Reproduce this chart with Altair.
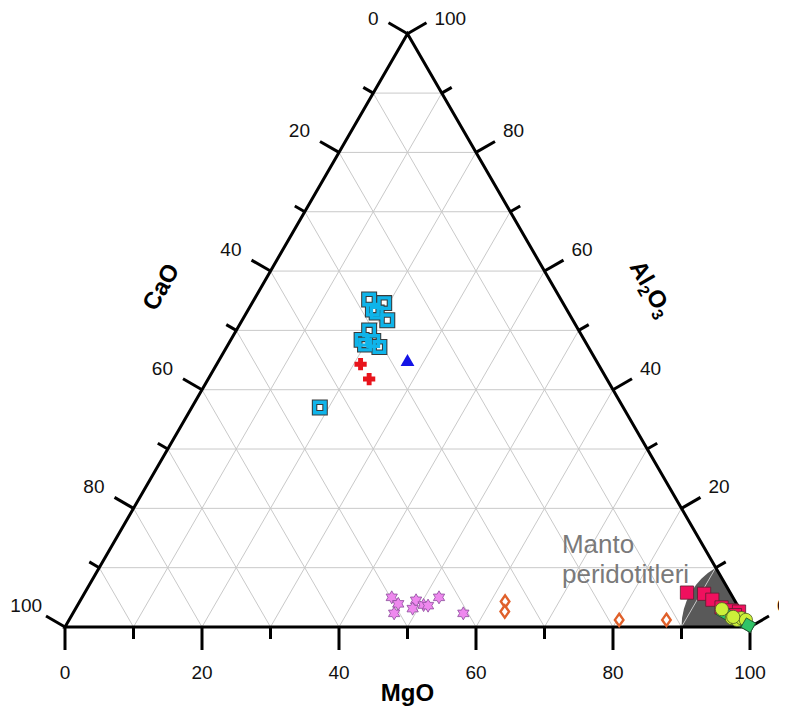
import math
import altair as alt
import pandas as pd

# ---------------- data: compositions in % (MgO, CaO, Al2O3) ----------------
cyan_mgo = [16.8, 19.3, 19.0, 21.2, 18.2, 19.4, 19.1, 20.9, 20.0, 22.3, 18.7]
cyan_cao = [28.0, 26.1, 28.0, 27.1, 28.3, 30.6, 32.5, 30.9, 32.4, 30.5, 44.3]
cyan_al = [55.2, 54.6, 53.0, 51.7, 53.5, 50.0, 48.4, 48.2, 47.6, 47.2, 37.0]

red_mgo = [21.0, 23.5]
red_cao = [34.7, 34.7]
red_al = [44.3, 41.8]

blue_mgo = [27.5]
blue_cao = [27.5]
blue_al = [45.0]

star_mgo = [45.2, 46.7, 46.9, 49.0, 49.2, 50.5, 51.2, 52.1, 57.0]
star_cao = [49.8, 49.4, 50.8, 46.5, 47.7, 45.8, 45.2, 42.9, 40.7]
star_al = [5.0, 3.9, 2.3, 4.5, 3.1, 3.7, 3.6, 5.0, 2.3]

dia_mgo = [62.1, 62.9, 80.3, 87.2]
dia_cao = [33.6, 34.5, 18.5, 11.6]
dia_al = [4.3, 2.6, 1.2, 1.2]

pink_mgo = [87.9, 90.5, 92.2, 94.2, 95.9, 97.1, 96.8]
pink_cao = [6.3, 3.9, 3.2, 2.5, 1.3, 0.3, 1.2]
pink_al = [5.8, 5.6, 4.6, 3.3, 2.8, 2.6, 2.0]

yel_mgo = [94.4, 96.6, 97.5, 98.0, 98.8, 96.7, 98.1]
yel_cao = [2.6, 1.9, 1.3, 0.5, 0.0, 1.6, 1.2]
yel_al = [3.0, 1.5, 1.2, 1.5, 1.2, 1.7, 0.7]

grn_mgo = [95.0, 97.7, 99.6]
grn_cao = [2.6, 1.1, 0.1]
grn_al = [2.4, 1.2, 0.3]

tick_values = [0, 10, 20, 30, 40, 50, 60, 70, 80, 90, 100]
grid_values = [10, 20, 30, 40, 50, 60, 70, 80, 90]
mantle_radius_pct = 10  # mantle peridotite field: 10 % around the MgO apex

FONT = "Liberation Sans"
S3 = math.sqrt(3) / 2
PX = 6.85  # pixels per percent along an edge


def tern(m, c, a):
    t = m + c + a
    m, a = m / t * 100, a / t * 100
    return m + a / 2, a * S3


def pts(mg, ca, al):
    rows = [tern(m, c, a) for m, c, a in zip(mg, ca, al)]
    return pd.DataFrame(rows, columns=["X", "Y"])


xs = alt.Scale(domain=[-8.321, 104.234], nice=False, zero=False)
ys = alt.Scale(domain=[-11.679, 90.365], nice=False, zero=False)
X = alt.X("X:Q", scale=xs, axis=None)
Y = alt.Y("Y:Q", scale=ys, axis=None)

# ---------------- mantle field (sector around MgO apex) ----------------
apex = pd.DataFrame({"X": [100.0], "Y": [0.0]})
mantle = alt.Chart(apex).mark_arc(
    radius=mantle_radius_pct * PX, theta=3 * math.pi / 2, theta2=11 * math.pi / 6,
    color="#595959"
).encode(x=X, y=Y)

# ---------------- grid ----------------
grid_rows = []
for k in grid_values:
    x1, y1 = tern(0, 100 - k, k); x2, y2 = tern(100 - k, 0, k)
    grid_rows.append((x1, y1, x2, y2))
    x1, y1 = tern(0, k, 100 - k); x2, y2 = tern(100 - k, k, 0)
    grid_rows.append((x1, y1, x2, y2))
    x1, y1 = tern(k, 0, 100 - k); x2, y2 = tern(k, 100 - k, 0)
    grid_rows.append((x1, y1, x2, y2))
grid_df = pd.DataFrame(grid_rows, columns=["X", "Y", "X2", "Y2"])
grid = alt.Chart(grid_df).mark_rule(color="#c9c9c9", strokeWidth=1).encode(
    x=X, y=Y, x2="X2:Q", y2="Y2:Q")

# ---------------- frame ----------------
verts = [tern(0, 100, 0), tern(100, 0, 0), tern(0, 0, 100), tern(0, 100, 0), tern(100, 0, 0)]
frame_df = pd.DataFrame([(i, v[0], v[1]) for i, v in enumerate(verts)], columns=["i", "X", "Y"])
frame = alt.Chart(frame_df).mark_line(color="black", strokeWidth=3, strokeJoin="miter").encode(
    x=X, y=Y, order="i:O")

# ---------------- ticks & labels ----------------
tick_rows = []
lab_rows = []
for k in tick_values:
    major = k % 20 == 0
    Lb = 3.36 if major else 1.75
    Ls = 3.2 if major else 1.68
    bx, by = tern(k, 100 - k, 0)
    tick_rows.append((bx, by, bx, by - Lb))
    lx, ly = tern(0, k, 100 - k)
    tick_rows.append((lx, ly, lx - Ls * S3, ly + Ls * 0.5))
    rx, ry = tern(100 - k, 0, k)
    tick_rows.append((rx, ry, rx + Ls * S3, ry + Ls * 0.5))
    if major:
        lside = "lt" if k == 0 else ("lb" if k == 100 else "l")
        lab_rows.append(("b", str(k), bx, by - Lb))
        lab_rows.append((lside, str(k), lx - Ls * S3, ly + Ls * 0.5))
        lab_rows.append(("rt" if k == 100 else "r", str(k), rx + Ls * S3, ry + Ls * 0.5))
tick_df = pd.DataFrame(tick_rows, columns=["X", "Y", "X2", "Y2"])
ticks = alt.Chart(tick_df).mark_rule(color="black", strokeWidth=3).encode(
    x=X, y=Y, x2="X2:Q", y2="Y2:Q")
lab_df = pd.DataFrame(lab_rows, columns=["side", "t", "X", "Y"])


def labels(side, **kw):
    return alt.Chart(lab_df[lab_df.side == side]).mark_text(
        font=FONT, fontSize=19, color="#111111", baseline="middle", **kw
    ).encode(x=X, y=Y, text="t:N")


lab_layers = [
    labels("b", align="center", dy=23),
    labels("l", align="right", dx=-10, dy=-10),
    labels("lt", align="right", dx=-10, dy=-4),
    labels("lb", align="right", dx=-4, dy=-10),
    labels("r", align="left", dx=8, dy=-10),
    labels("rt", align="left", dx=8, dy=-4),
]

# ---------------- axis titles ----------------
mx, my = tern(50, 50, 0)
cx, cy = tern(0, 50, 50)
ax_, ay_ = tern(50, 0, 50)
off_c = 86 / PX
off_a = 84 / PX
TFS = 24
title_layers = [
    alt.Chart(pd.DataFrame({"X": [mx], "Y": [my - 9.75], "t": ["MgO"]})).mark_text(
        font=FONT, fontSize=TFS, fontWeight="bold", color="black",
        align="center", baseline="middle"
    ).encode(x=X, y=Y, text="t:N"),
    alt.Chart(pd.DataFrame({"X": [cx - off_c * S3], "Y": [cy + off_c * 0.5], "t": ["CaO"]})).mark_text(
        font=FONT, fontSize=TFS, fontWeight="bold", color="black",
        align="center", baseline="middle", angle=300
    ).encode(x=X, y=Y, text="t:N"),
]

# Al2O3 with real subscripts, laid along a 60° baseline
tcx, tcy = ax_ + off_a * S3, ay_ + off_a * 0.5
dxu, dyu = 0.5 / PX, -S3 / PX        # along text direction (data units per px)
nxu, nyu = -S3 / PX, -0.5 / PX       # "down" relative to text
pieces = [("Al", TFS, 1.0 * TFS, False), ("2", 16, 0.556 * 16, True),
          ("O", TFS, 0.778 * TFS, False), ("3", 16, 0.556 * 16, True)]
total = sum(p[2] for p in pieces)
pos = -total / 2
main_rows, sub_rows = [], []
for t, fs, w, sub in pieces:
    down = 8.5 + (5 if sub else 0)
    px_ = tcx + pos * dxu + down * nxu
    py_ = tcy + pos * dyu + down * nyu
    (sub_rows if sub else main_rows).append((px_, py_, t))
    pos += w
for rows, fs in ((main_rows, TFS), (sub_rows, 16)):
    title_layers.append(
        alt.Chart(pd.DataFrame(rows, columns=["X", "Y", "t"])).mark_text(
            font=FONT, fontSize=fs, fontWeight="bold", color="black",
            align="left", baseline="alphabetic", angle=60
        ).encode(x=X, y=Y, text="t:N"))

# ---------------- annotation ----------------
note_df = pd.DataFrame({"X": [72.55, 72.55], "Y": [10.8, 6.4], "t": ["Manto", "peridotitleri"]})
note = alt.Chart(note_df).mark_text(
    font=FONT, fontSize=26, color="#7a7a7a", align="left", baseline="alphabetic"
).encode(x=X, y=Y, text="t:N")

# ---------------- markers ----------------
HEX = ("M0,-1L0.2887,-0.5L0.866,-0.5L0.5774,0L0.866,0.5L0.2887,0.5L0,1L-0.2887,0.5"
       "L-0.866,0.5L-0.5774,0L-0.866,-0.5L-0.2887,-0.5Z")
DIA = "M0,-1L0.7,0L0,1L-0.7,0Z"


def mk(df, **kw):
    return alt.Chart(df).mark_point(opacity=1, **kw).encode(x=X, y=Y)


cyan_df = pts(cyan_mgo, cyan_cao, cyan_al)
layers_pts = [
    mk(cyan_df, shape="square", size=110, filled=False, fill="white", stroke="#3a3a3a", strokeWidth=5.5),
    mk(cyan_df, shape="square", size=110, filled=False, stroke="#0fb4ea", strokeWidth=3.4),
    mk(pts(red_mgo, red_cao, red_al), shape="cross", size=150, filled=True, color="#e8141c", strokeWidth=0),
    mk(pts(blue_mgo, blue_cao, blue_al), shape="triangle-up", size=190, filled=True, color="#1414e6", strokeWidth=0),
    mk(pts(star_mgo, star_cao, star_al), shape=HEX, size=170, filled=True, fill="#ee88ee",
       stroke="#8a4a9a", strokeWidth=0.8),
    mk(pts(dia_mgo, dia_cao, dia_al), shape=DIA, size=150, filled=False, fill="white",
       stroke="#e0602a", strokeWidth=2.4),
    mk(pts(pink_mgo, pink_cao, pink_al), shape="square", size=175, filled=True, fill="#f0105e",
       stroke="#5a2030", strokeWidth=0.8),
    mk(pts(grn_mgo, grn_cao, grn_al), shape="square", size=115, angle=30, filled=True, fill="#30c468",
       stroke="#1f4f2f", strokeWidth=0.8),
    mk(pts(yel_mgo[:-1], yel_cao[:-1], yel_al[:-1]), shape="circle", size=175, filled=True, fill="#ccf03a",
       stroke="#4a5a20", strokeWidth=0.8),
    mk(pts(grn_mgo[-1:], grn_cao[-1:], grn_al[-1:]), shape="square", size=115, angle=30, filled=True,
       fill="#30c468", stroke="#1f4f2f", strokeWidth=0.8),
]

chart = alt.layer(
    mantle, grid, note, frame, ticks, *lab_layers, *title_layers, *layers_pts
).properties(
    width=771, height=699, padding=0, autosize=alt.AutoSizeParams(type="none")
).configure_view(stroke=None)

chart.save("out.html", embed_options={"renderer": "svg", "actions": False})
